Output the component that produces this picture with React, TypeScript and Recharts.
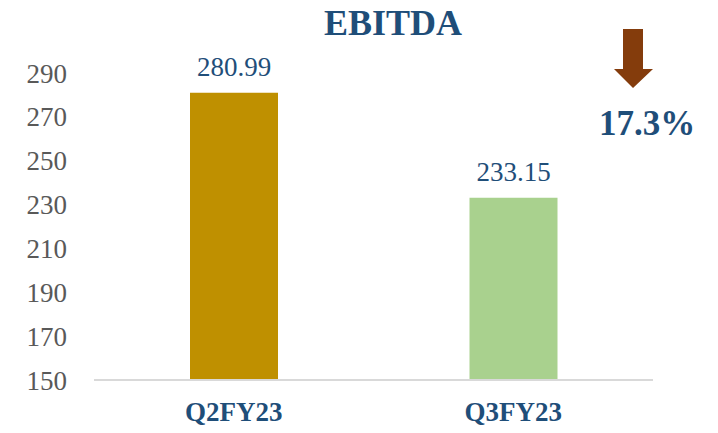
import React from 'react';
import { BarChart, Bar, XAxis, YAxis, Cell, LabelList } from 'recharts';

const quarters = ['Q2FY23', 'Q3FY23'];
const ebitda = [280.99, 233.15];
const barColors = ['#BF9000', '#A9D18E'];
const yTicks = [150, 170, 190, 210, 230, 250, 270, 290];
const changeText = '17.3%';

const data = quarters.map((q, i) => ({ quarter: q, value: ebitda[i] }));

const serif = '"Liberation Serif", "DejaVu Serif", serif';
const blue = '#1F4E79';

const App: React.FC = () => {
  return (
    <div style={{ position: 'absolute', left: 0, top: 0, width: 718, height: 433, background: '#fff', fontFamily: serif }}>
      <BarChart
        width={718}
        height={433}
        data={data}
        margin={{ top: 73, right: 65, bottom: 23, left: 0 }}
      >
        <XAxis
          dataKey="quarter"
          height={30}
          axisLine={{ stroke: '#D9D9D9', strokeWidth: 2 }}
          tickLine={false}
          tickSize={0}
          tickMargin={22}
          tick={{ fill: blue, fontSize: 27, fontWeight: 'bold', fontFamily: serif }}
        />
        <YAxis
          width={94}
          domain={[150, 290]}
          ticks={yTicks}
          interval={0}
          axisLine={false}
          tickLine={false}
          tickSize={0}
          tickMargin={27}
          tick={{ fill: '#595959', fontSize: 27, fontFamily: serif }}
        />
        <Bar dataKey="value" barSize={88} isAnimationActive={false}>
          {data.map((d, i) => (
            <Cell key={d.quarter} fill={barColors[i]} />
          ))}
          <LabelList
            dataKey="value"
            position="top"
            offset={17}
            fill={blue}
            fontSize={27}
            fontFamily={serif}
            formatter={(v: any) => Number(v).toFixed(2)}
          />
        </Bar>
      </BarChart>
      <svg width={718} height={433} style={{ position: 'absolute', left: 0, top: 0, pointerEvents: 'none' }}>
        <text x={393} y={35} textAnchor="middle" fill={blue} fontSize={36} fontWeight="bold" fontFamily={serif}>
          EBITDA
        </text>
        <polygon
          points="623,29 643,29 643,69 653,69 633,88 614,69 623,69"
          fill="#843C0C"
        />
        <text x={647} y={135} textAnchor="middle" fill={blue} fontSize={35} fontWeight="bold" fontFamily={serif}>
          {changeText}
        </text>
      </svg>
    </div>
  );
};

export default App;
